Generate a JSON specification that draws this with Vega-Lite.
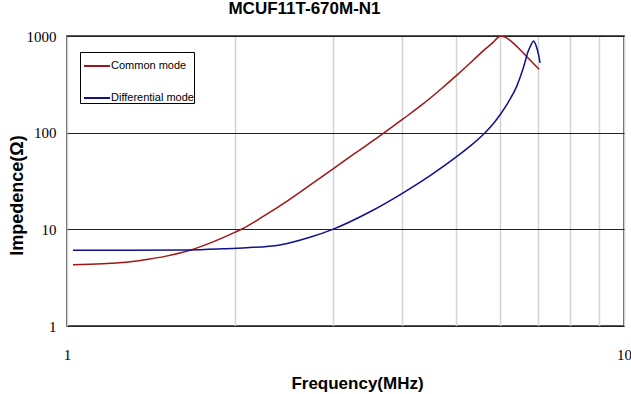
{
  "$schema": "https://vega.github.io/schema/vega-lite/v6.json",
  "width": 557,
  "height": 290,
  "autosize": {"type": "none"},
  "padding": {"left": 67, "top": 36, "right": 7, "bottom": 68},
  "background": "white",
  "title": {
    "text": "MCUF11T-670M-N1",
    "font": "Liberation Sans",
    "fontSize": 17,
    "fontWeight": "bold",
    "color": "#000",
    "anchor": "middle",
    "dx": -41,
    "offset": 11
  },
  "config": {
    "view": {"stroke": "#222", "strokeWidth": 1.5},
    "axis": {"domain": false, "ticks": false}
  },
  "data": {
    "values": [
      {"f": 1.025, "z": 4.3, "mode": "Common mode"},
      {"f": 1.1, "z": 4.35, "mode": "Common mode"},
      {"f": 1.2, "z": 4.45, "mode": "Common mode"},
      {"f": 1.3, "z": 4.62, "mode": "Common mode"},
      {"f": 1.4, "z": 4.9, "mode": "Common mode"},
      {"f": 1.5, "z": 5.25, "mode": "Common mode"},
      {"f": 1.65, "z": 6.0, "mode": "Common mode"},
      {"f": 1.8, "z": 7.15, "mode": "Common mode"},
      {"f": 2.0, "z": 9.3, "mode": "Common mode"},
      {"f": 2.07, "z": 10.2, "mode": "Common mode"},
      {"f": 2.25, "z": 13.6, "mode": "Common mode"},
      {"f": 2.5, "z": 20.1, "mode": "Common mode"},
      {"f": 2.75, "z": 29.5, "mode": "Common mode"},
      {"f": 3.0, "z": 42, "mode": "Common mode"},
      {"f": 3.3, "z": 62, "mode": "Common mode"},
      {"f": 3.65, "z": 93, "mode": "Common mode"},
      {"f": 4.0, "z": 137, "mode": "Common mode"},
      {"f": 4.35, "z": 197, "mode": "Common mode"},
      {"f": 4.7, "z": 285, "mode": "Common mode"},
      {"f": 5.0, "z": 389, "mode": "Common mode"},
      {"f": 5.36, "z": 561, "mode": "Common mode"},
      {"f": 5.6, "z": 711, "mode": "Common mode"},
      {"f": 5.82, "z": 859, "mode": "Common mode"},
      {"f": 5.92, "z": 950, "mode": "Common mode"},
      {"f": 6.0, "z": 995, "mode": "Common mode"},
      {"f": 6.08, "z": 985, "mode": "Common mode"},
      {"f": 6.2, "z": 930, "mode": "Common mode"},
      {"f": 6.35, "z": 830, "mode": "Common mode"},
      {"f": 6.51, "z": 720, "mode": "Common mode"},
      {"f": 6.78, "z": 565, "mode": "Common mode"},
      {"f": 7.04, "z": 452, "mode": "Common mode"},
      {"f": 1.025, "z": 6.08, "mode": "Differential mode"},
      {"f": 1.3, "z": 6.08, "mode": "Differential mode"},
      {"f": 1.65, "z": 6.12, "mode": "Differential mode"},
      {"f": 1.9, "z": 6.28, "mode": "Differential mode"},
      {"f": 2.1, "z": 6.45, "mode": "Differential mode"},
      {"f": 2.41, "z": 6.9, "mode": "Differential mode"},
      {"f": 2.73, "z": 8.28, "mode": "Differential mode"},
      {"f": 3.0, "z": 10, "mode": "Differential mode"},
      {"f": 3.5, "z": 15.2, "mode": "Differential mode"},
      {"f": 4.0, "z": 23.6, "mode": "Differential mode"},
      {"f": 4.5, "z": 36.4, "mode": "Differential mode"},
      {"f": 5.0, "z": 56.2, "mode": "Differential mode"},
      {"f": 5.3, "z": 73, "mode": "Differential mode"},
      {"f": 5.63, "z": 100, "mode": "Differential mode"},
      {"f": 5.82, "z": 123, "mode": "Differential mode"},
      {"f": 6.0, "z": 155, "mode": "Differential mode"},
      {"f": 6.2, "z": 207, "mode": "Differential mode"},
      {"f": 6.42, "z": 303, "mode": "Differential mode"},
      {"f": 6.59, "z": 460, "mode": "Differential mode"},
      {"f": 6.73, "z": 695, "mode": "Differential mode"},
      {"f": 6.82, "z": 826, "mode": "Differential mode"},
      {"f": 6.88, "z": 890, "mode": "Differential mode"},
      {"f": 6.95, "z": 800, "mode": "Differential mode"},
      {"f": 7.02, "z": 650, "mode": "Differential mode"},
      {"f": 7.07, "z": 526, "mode": "Differential mode"}
    ]
  },
  "mark": {"type": "line", "interpolate": "monotone", "strokeWidth": 1.5, "clip": true},
  "encoding": {
    "x": {
      "field": "f",
      "type": "quantitative",
      "scale": {"type": "log", "domain": [1, 10], "nice": false},
      "axis": {
        "values": [1, 2, 3, 4, 5, 6, 7, 8, 9, 10],
        "labelExpr": "datum.value == 1 || datum.value == 10 ? datum.value : ''",
        "labelFont": "Liberation Serif",
        "labelFontSize": 15,
        "labelColor": "#000",
        "labelPadding": 21,
        "labelFlush": false,
        "gridColor": "#d4d4d4",
        "gridWidth": 1.5,
        "title": "Frequency(MHz)",
        "titleFont": "Liberation Sans",
        "titleFontSize": 17,
        "titleFontWeight": "bold",
        "titleColor": "#000",
        "titlePadding": 13,
        "titleX": 290
      }
    },
    "y": {
      "field": "z",
      "type": "quantitative",
      "scale": {"type": "log", "domain": [1, 1000], "nice": false},
      "axis": {
        "values": [1, 10, 100, 1000],
        "format": "d",
        "labelFont": "Liberation Serif",
        "labelFontSize": 15,
        "labelColor": "#000",
        "labelPadding": 11,
        "labelFlush": false,
        "gridColor": "#222",
        "gridWidth": 1.2,
        "title": "Impedence(Ω)",
        "titleFont": "Liberation Sans",
        "titleFontSize": 18,
        "titleFontWeight": "bold",
        "titleColor": "#000",
        "titleX": -41,
        "titleY": 159
      }
    },
    "color": {
      "field": "mode",
      "type": "nominal",
      "scale": {"domain": ["Common mode", "Differential mode"], "range": ["#a01515", "#10108f"]},
      "legend": {
        "title": null,
        "orient": "none",
        "legendX": 13,
        "legendY": 16,
        "strokeColor": "#000",
        "fillColor": "#fff",
        "padding": 0,
        "symbolOffset": 3,
        "symbolType": "stroke",
        "symbolSize": 676,
        "symbolStrokeWidth": 2,
        "rowPadding": 13,
        "labelOffset": 0,
        "labelFont": "Liberation Sans",
        "labelFontSize": 11,
        "labelColor": "#000"
      }
    }
  }
}
